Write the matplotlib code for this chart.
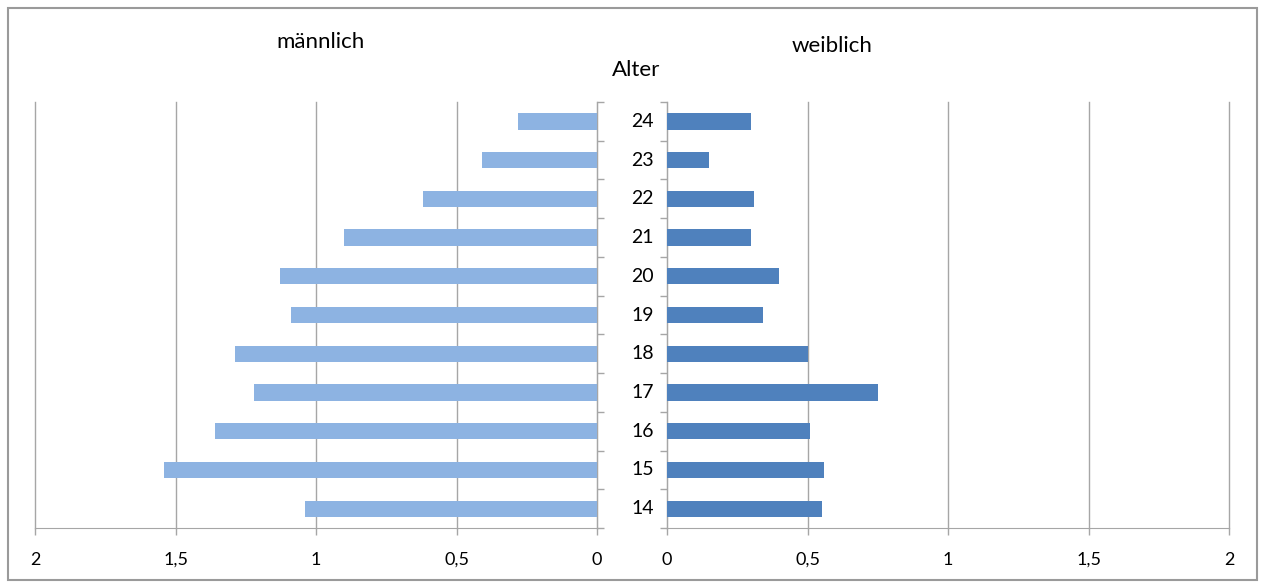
import matplotlib.pyplot as plt
from matplotlib.patches import Rectangle

alter = [14, 15, 16, 17, 18, 19, 20, 21, 22, 23, 24]
maennlich = [1.04, 1.54, 1.36, 1.22, 1.29, 1.09, 1.13, 0.90, 0.62, 0.41, 0.28]
weiblich = [0.55, 0.56, 0.51, 0.75, 0.50, 0.34, 0.40, 0.30, 0.31, 0.15, 0.30]
x_ticks = [0, 0.5, 1, 1.5, 2]
x_labels = ["0", "0,5", "1", "1,5", "2"]

plt.rcParams['font.family'] = ['Lato', 'DejaVu Sans']
grid_col = '#a6a6a6'

fig = plt.figure(figsize=(12.65, 5.87), dpi=100)
fig.patches.append(Rectangle((0.006, 0.012), 0.988, 0.975, transform=fig.transFigure,
                             fill=False, edgecolor='#9a9a9a', linewidth=1.5))

ax_m = fig.add_axes([0.0277, 0.1005, 0.4443, 0.7257])
ax_w = fig.add_axes([0.5273, 0.1005, 0.4443, 0.7257])

pos = list(range(len(alter)))

# männlich (links, gespiegelt)
ax_m.barh(pos, maennlich, height=0.42, color='#8db3e2', zorder=3)
ax_m.set_xlim(2, 0)
ax_m.yaxis.tick_right()

# weiblich (rechts)
ax_w.barh(pos, weiblich, height=0.42, color='#4f81bd', zorder=3)
ax_w.set_xlim(0, 2)

for ax in (ax_m, ax_w):
    ax.set_ylim(-0.5, len(alter) - 0.5)
    ax.set_xticks(x_ticks)
    ax.set_xticklabels(x_labels, fontsize=13)
    ax.grid(axis='x', color=grid_col, linewidth=1, zorder=0)
    for gl in ax.get_xgridlines():
        gl.set_clip_on(False)
    ax.set_yticks([p - 0.5 for p in pos] + [len(alter) - 0.5])
    ax.set_yticklabels([])
    ax.tick_params(axis='y', length=5, color=grid_col, width=1)
    ax.tick_params(axis='x', length=5, color=grid_col, width=1, pad=12)
    for s in ax.spines.values():
        s.set_visible(False)
    ax.spines['bottom'].set_visible(True)
    ax.spines['bottom'].set_color(grid_col)

ax_m.spines['right'].set_visible(True)
ax_m.spines['right'].set_color(grid_col)
ax_w.spines['left'].set_visible(True)
ax_w.spines['left'].set_color(grid_col)

# Alterslabels in der Mitte
for p, a in zip(pos, alter):
    ax_w.text(-0.088, p, str(a), ha='center', va='center', fontsize=14)

fig.text(0.253, 0.928, "männlich", ha='center', va='center', fontsize=16)
fig.text(0.658, 0.921, "weiblich", ha='center', va='center', fontsize=16)
fig.text(0.503, 0.880, "Alter", ha='center', va='center', fontsize=16)

fig.savefig('out.png', dpi=100)
